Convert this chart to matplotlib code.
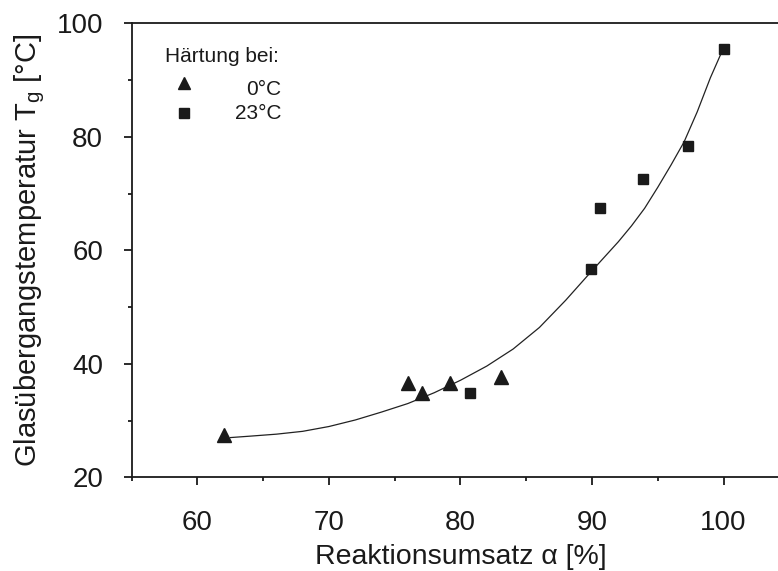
import matplotlib
matplotlib.use("Agg")
import matplotlib.pyplot as plt
from matplotlib.ticker import MultipleLocator

plt.rcParams['font.family'] = ['Liberation Sans', 'DejaVu Sans']

# Härtung bei 0°C (triangles)
umsatz_0 = [62.0, 76.0, 77.1, 79.2, 83.1]
tg_0 = [27.5, 36.6, 34.9, 36.7, 37.7]

# Härtung bei 23°C (squares)
umsatz_23 = [80.7, 89.9, 90.6, 93.9, 97.3, 100.0]
tg_23 = [34.8, 56.7, 67.5, 72.5, 78.4, 95.4]

# fit curve, points
fit_x = [62.5, 64, 66, 68, 70, 72, 74, 76, 78, 80, 82, 84, 86, 88, 90,
         92, 93, 94, 95, 96, 97, 98, 99, 99.95]
fit_y = [27.0, 27.25, 27.6, 28.1, 28.95, 30.1, 31.5, 33.0, 34.9, 37.1, 39.6,
         42.6, 46.4, 51.2, 56.4, 61.5, 64.3, 67.4, 71.1, 75.0, 79.1, 84.4,
         90.4, 95.4]

fig = plt.figure(figsize=(7.78, 5.71), dpi=100)
ax = fig.add_axes([0.1693, 0.1641, 1.0145 - 0.1693, 0.9592 - 0.1641])

ax.plot(fit_x, fit_y, color='#222222', lw=0.9, zorder=2)
ax.plot(umsatz_0, tg_0, ls='none', marker='^', ms=9.5, color='#1a1a1a', zorder=3)
ax.plot(umsatz_23, tg_23, ls='none', marker='s', ms=7.2, color='#1a1a1a', zorder=3)

ax.set_xlim(55, 105)
ax.set_ylim(20, 100)
ax.xaxis.set_major_locator(MultipleLocator(10))
ax.xaxis.set_minor_locator(MultipleLocator(5))
ax.yaxis.set_major_locator(MultipleLocator(20))
ax.yaxis.set_minor_locator(MultipleLocator(10))

for s in ax.spines.values():
    s.set_linewidth(1.3)
    s.set_color('#1a1a1a')
ax.spines['right'].set_visible(False)

ax.tick_params(which='major', direction='out', length=5.5, width=1.3,
               labelsize=20, colors='#1a1a1a')
ax.tick_params(which='minor', direction='out', length=3, width=1.3, colors='#1a1a1a')
ax.tick_params(axis='x', which='major', pad=18)
ax.tick_params(axis='y', which='major', pad=15)

ax.set_xlabel('Reaktionsumsatz α [%]', fontsize=20.5, color='#1a1a1a', labelpad=6)
ax.set_ylabel('Glasübergangstemperatur T$_\\mathregular{g}$ [°C]', fontsize=21,
              color='#1a1a1a', labelpad=7)

# legend
ax.text(0.0506, 0.9154, 'Härtung bei:', transform=ax.transAxes, fontsize=15,
        ha='left', va='baseline', color='#1a1a1a')
ax.plot([0.080], [0.868], marker='^', ms=8.5, color='#1a1a1a', ls='none',
        transform=ax.transAxes, clip_on=False)
ax.plot([0.080], [0.802], marker='s', ms=7, color='#1a1a1a', ls='none',
        transform=ax.transAxes, clip_on=False)
ax.text(0.228, 0.855, '0°C', transform=ax.transAxes, fontsize=15,
        ha='right', va='center', color='#1a1a1a')
ax.text(0.228, 0.802, '23°C', transform=ax.transAxes, fontsize=15,
        ha='right', va='center', color='#1a1a1a')

fig.savefig('out.png', dpi=100)
